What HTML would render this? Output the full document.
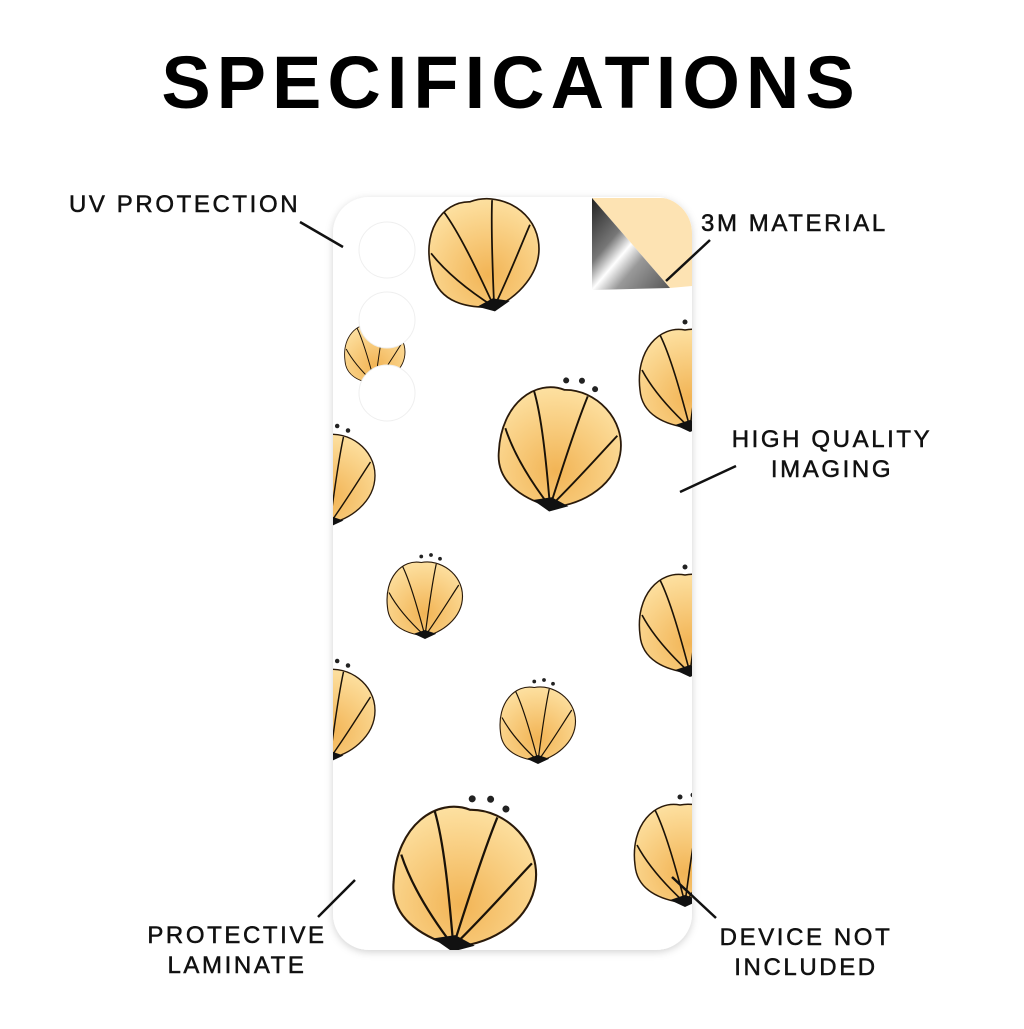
<!DOCTYPE html>
<html><head><style>
body{margin:0;width:1024px;height:1024px;background:#fff;overflow:hidden;font-family:"Liberation Sans",sans-serif;}
</style></head><body>
<svg width="1024" height="1024" viewBox="0 0 1024 1024" xmlns="http://www.w3.org/2000/svg">
<defs>
<filter id="sh" x="-10%" y="-10%" width="120%" height="120%"><feDropShadow dx="0" dy="2" stdDeviation="4" flood-color="#000" flood-opacity="0.18"/></filter>
<linearGradient id="sil" x1="0" y1="0" x2="1" y2="1">
<stop offset="0" stop-color="#222"/><stop offset="0.35" stop-color="#777"/><stop offset="0.5" stop-color="#fff"/><stop offset="0.65" stop-color="#999"/><stop offset="1" stop-color="#555"/></linearGradient>
<radialGradient id="pet" cx="0.5" cy="0.7" r="0.7"><stop offset="0" stop-color="#f2b455"/><stop offset="1" stop-color="#fde0a0"/></radialGradient>
<g id="fl">
<path d="M-50,10 C-55,-30 -30,-55 -5,-50 C20,-55 50,-35 50,-5 C50,25 20,45 0,48 C-25,45 -48,35 -50,10Z" fill="url(#pet)" stroke="#2a1a0a" stroke-width="1.5"/>
<path d="M0,48 C-10,10 -20,-25 -30,-45 M0,48 C5,10 10,-25 15,-48 M0,48 C20,20 35,-5 45,-20 M0,48 C-25,25 -40,5 -48,-10" stroke="#1a1208" stroke-width="1.6" fill="none"/>
<path d="M-15,45 L0,52 L15,45 L0,40Z" fill="#111"/>
<circle cx="-5" cy="-58" r="2.5" fill="#222"/><circle cx="8" cy="-60" r="2.5" fill="#222"/><circle cx="20" cy="-55" r="2.5" fill="#222"/>
</g>
</defs>
<text x="511" y="108" text-anchor="middle" font-size="74" font-weight="bold" letter-spacing="6" fill="#000">SPECIFICATIONS</text>
<g filter="url(#sh)">
<rect x="333" y="197" width="359" height="753" rx="36" fill="#fff"/>
</g>
<clipPath id="cp"><rect x="333" y="197" width="359" height="753" rx="36"/></clipPath>
<g clip-path="url(#cp)">
<use href="#fl" transform="translate(485,255) scale(1.1) rotate(-10)"/>
<use href="#fl" transform="translate(375,355) scale(0.6)"/>
<use href="#fl" transform="translate(560,450) scale(1.2) rotate(10)"/>
<use href="#fl" transform="translate(690,380) scale(1.0)"/>
<use href="#fl" transform="translate(330,480) scale(0.9)"/>
<use href="#fl" transform="translate(425,600) scale(0.75)"/>
<use href="#fl" transform="translate(690,625) scale(1.0)"/>
<use href="#fl" transform="translate(330,715) scale(0.9)"/>
<use href="#fl" transform="translate(538,725) scale(0.75)"/>
<use href="#fl" transform="translate(465,880) scale(1.4) rotate(10)"/>
<use href="#fl" transform="translate(685,855) scale(1.0)"/>
<g fill="#fff" stroke="#efefef" stroke-width="1">
<circle cx="387" cy="250" r="28"/>
<circle cx="387" cy="320" r="28"/>
<circle cx="387" cy="393" r="28"/>
</g>
<rect x="592" y="190" width="110" height="98" fill="#fff"/>
<path d="M592,198 L660,198 Q692,198 692,230 L692,286 L670,288 Z" fill="#fde3b3"/>
<path d="M592,198 L670,288 L592,290 Z" fill="url(#sil)"/>
</g>
<g font-size="24" letter-spacing="2.6" fill="#111" stroke="#111" stroke-width="0.5">
<text x="69" y="212">UV PROTECTION</text>
<text x="701" y="231">3M MATERIAL</text>
<text x="832" y="447" text-anchor="middle">HIGH QUALITY</text>
<text x="832" y="477" text-anchor="middle">IMAGING</text>
<text x="237" y="943" text-anchor="middle">PROTECTIVE</text>
<text x="237" y="973" text-anchor="middle">LAMINATE</text>
<text x="806" y="945" text-anchor="middle">DEVICE NOT</text>
<text x="806" y="975" text-anchor="middle">INCLUDED</text>
</g>
<g stroke="#111" stroke-width="2.5">
<line x1="300" y1="222" x2="343" y2="247"/>
<line x1="710" y1="240" x2="666" y2="281"/>
<line x1="736" y1="466" x2="680" y2="492"/>
<line x1="355" y1="880" x2="318" y2="917"/>
<line x1="672" y1="877" x2="716" y2="918"/>
</g>
</svg>
</body></html>
